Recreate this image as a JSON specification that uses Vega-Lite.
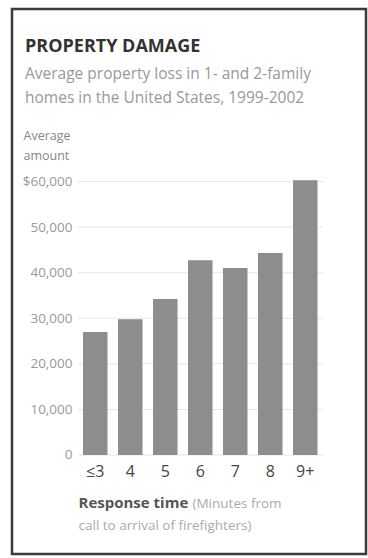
{
  "$schema": "https://vega.github.io/schema/vega-lite/v6.json",
  "width": 354,
  "height": 545,
  "autosize": {"type": "none"},
  "padding": {"left": 12, "top": 9, "right": 2, "bottom": 4},
  "background": "#ffffff",
  "config": {"view": {"stroke": "#3a3a3a", "strokeWidth": 2.5}, "font": "Open Sans"},
  "title": {
    "text": "PROPERTY DAMAGE",
    "subtitle": ["Average property loss in 1- and 2-family", "homes in the United States, 1999-2002"],
    "anchor": "start",
    "frame": "group",
    "orient": "top",
    "offset": -97,
    "dx": 13,
    "baseline": "top",
    "font": "Open Sans",
    "fontSize": 18,
    "fontWeight": "bold",
    "color": "#333333",
    "subtitleFont": "Open Sans",
    "subtitleFontSize": 15.5,
    "subtitleColor": "#999999",
    "subtitleLineHeight": 24,
    "subtitlePadding": 11
  },
  "datasets": {
    "bars": [
      {"cat": "≤3", "value": 27000},
      {"cat": "4", "value": 29800},
      {"cat": "5", "value": 34200},
      {"cat": "6", "value": 42700},
      {"cat": "7", "value": 41000},
      {"cat": "8", "value": 44300},
      {"cat": "9+", "value": 60300}
    ],
    "grid": [
      {"value": 10000, "cats": ["≤3", "4", "5", "6", "7", "8", "9+"]},
      {"value": 20000, "cats": ["≤3", "4", "5", "6", "7", "8", "9+"]},
      {"value": 30000, "cats": ["≤3", "4", "5", "6", "7", "8", "9+"]},
      {"value": 40000, "cats": ["≤3", "4", "5", "6", "7", "8", "9+"]},
      {"value": 50000, "cats": ["≤3", "4", "5", "6", "7", "8", "9+"]},
      {"value": 60000, "cats": ["≤3", "4", "5", "6", "7", "8", "9+"]}
    ],
    "base": [
      {"value": 0, "cats": ["≤3", "4", "5", "6", "7", "8", "9+"]}
    ]
  },
  "layer": [
    {
      "data": {"name": "grid"},
      "transform": [{"flatten": ["cats"]}],
      "mark": {"type": "tick", "orient": "horizontal", "size": 35, "thickness": 1, "color": "#dcdcdc"},
      "encoding": {
        "x": {
          "field": "cats", "type": "nominal", "sort": null,
          "scale": {"type": "band", "domain": ["≤3", "4", "5", "6", "7", "8", "9+"], "range": [65.75, 310.75], "paddingInner": 0.3, "paddingOuter": 0.15},
          "axis": {"orient": "bottom", "offset": -99, "labels": false, "ticks": false, "domain": false, "grid": false,
            "title": "(Minutes from", "titleX": 180, "titleY": 52, "titleAlign": "left", "titleBaseline": "alphabetic",
            "titleFontSize": 13.5, "titleFontWeight": "normal", "titleColor": "#aaaaaa", "titleFont": "Open Sans"}
        },
        "y": {"field": "value", "type": "quantitative", "scale": {"domain": [-21720, 97845], "nice": false, "zero": false}, "axis": null}
      }
    },
    {
      "data": {"name": "base"},
      "transform": [{"flatten": ["cats"]}],
      "mark": {"type": "tick", "orient": "horizontal", "size": 35, "thickness": 1, "color": "#dcdcdc"},
      "encoding": {
        "x": {
          "field": "cats", "type": "nominal", "sort": null,
          "scale": {"type": "band", "domain": ["≤3", "4", "5", "6", "7", "8", "9+"], "range": [65.75, 310.75], "paddingInner": 0.3, "paddingOuter": 0.15},
          "axis": {"orient": "bottom", "offset": -99, "labels": false, "ticks": false, "domain": false, "grid": false,
            "title": "call to arrival of firefighters)", "titleX": 66, "titleY": 74, "titleAlign": "left", "titleBaseline": "alphabetic",
            "titleFontSize": 13.5, "titleFontWeight": "normal", "titleColor": "#aaaaaa", "titleFont": "Open Sans"}
        },
        "y": {"field": "value", "type": "quantitative", "scale": {"domain": [-21720, 97845], "nice": false, "zero": false}, "axis": null}
      }
    },
    {
      "data": {"name": "bars"},
      "mark": {"type": "bar", "color": "#8d8d8d"},
      "encoding": {
        "x": {
          "field": "cat", "type": "nominal", "sort": null,
          "scale": {"type": "band", "domain": ["≤3", "4", "5", "6", "7", "8", "9+"], "range": [65.75, 310.75], "paddingInner": 0.3, "paddingOuter": 0.15},
          "axis": {"orient": "bottom", "offset": -99, "labelAngle": 0, "domain": false, "ticks": false, "tickSize": 0, "grid": false,
            "labelPadding": 8, "labelFontSize": 16, "labelColor": "#444444", "labelFont": "Open Sans",
            "title": "Response time", "titleX": 66, "titleY": 52, "titleAlign": "left", "titleBaseline": "alphabetic",
            "titleFontSize": 15, "titleFontWeight": "bold", "titleColor": "#555555", "titleFont": "Open Sans"}
        },
        "y": {
          "field": "value", "type": "quantitative",
          "scale": {"domain": [-21720, 97845], "nice": false, "zero": false},
          "axis": {"orient": "left", "offset": -62, "values": [0, 10000, 20000, 30000, 40000, 50000, 60000],
            "labelExpr": "datum.value == 60000 ? '$60,000' : format(datum.value, ',')",
            "domain": false, "ticks": false, "tickSize": 0, "grid": false, "labelPadding": 2,
            "labelFontSize": 13.5, "labelColor": "#999999", "labelFont": "Open Sans",
            "title": ["Average", "amount"], "titleAngle": 0, "titleAlign": "left", "titleBaseline": "alphabetic",
            "titleX": -51, "titleY": 130, "titleFontSize": 12.5, "titleFontWeight": "normal", "titleColor": "#888888",
            "titleLineHeight": 20, "titleFont": "Open Sans"}
        },
        "y2": {"datum": 0}
      }
    }
  ],
  "resolve": {"axis": {"x": "independent", "y": "independent"}}
}
